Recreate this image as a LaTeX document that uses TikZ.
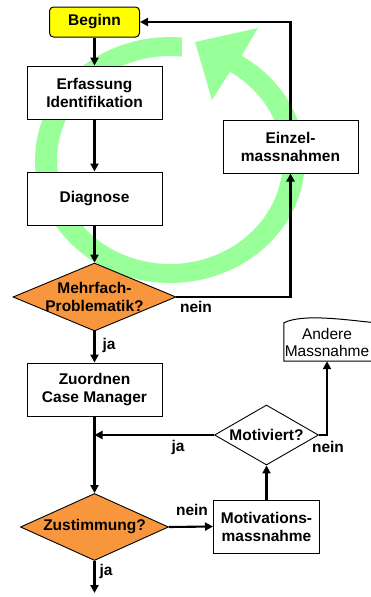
\documentclass[tikz,border=0pt]{standalone}
\usepackage{fontspec}
\setmainfont{Liberation Sans}
\usetikzlibrary{shapes.geometric,arrows.meta}
\definecolor{ringgreen}{RGB}{153,255,153}
\definecolor{decorange}{RGB}{247,150,60}
\definecolor{startyellow}{RGB}{255,255,0}
\begin{document}
\begin{tikzpicture}[x=1pt,y=-1pt,font=\fontsize{15.5}{18}\selectfont\bfseries]
    \tikzset{
        box/.style={draw,line width=1pt,fill=white,minimum width=135pt,minimum height=53pt,inner sep=0pt,align=center},
        start/.style={box,fill=startyellow,rounded corners=4pt,minimum width=90pt,minimum height=30pt},
        decision/.style={diamond,draw,line width=0.9pt,fill=decorange,inner sep=0pt},
        flow/.style={line width=2.1pt,-{Triangle[length=8pt,width=8pt]}},
        answer/.style={inner sep=0pt}}
    \useasboundingbox (0,0) rectangle (370,597);
    % green cycle arrow in the background
    \fill[ringgreen] plot[domain=-85:-418,samples=90] ({170+135*cos(\x)},{160+123*sin(\x)})
        -- (258,28) -- (195,42) -- (212,100)
        -- plot[domain=-418:-84,samples=90] ({170+113*cos(\x)},{160+104*sin(\x)}) -- cycle;
    % steps
    \node[start] (beginn) at (94.5,22) {Beginn};
    \node[box] (erfassung) at (94.5,92.5) {Erfassung\\Identifikation};
    \node[box] (diagnose) at (94.5,198.5) {Diagnose};
    \node[decision,minimum width=163pt,minimum height=68pt,
        label={[align=center]center:{Mehrfach-\\Problematik?}}] (mehrfach) at (94.5,297) {};
    \node[box] (einzel) at (290.5,146.5) {Einzel-\\massnahmen};
    \node[box] (zuordnen) at (94.5,389.5) {Zuordnen\\Case Manager};
    \node[decision,fill=white,minimum width=104pt,minimum height=60pt,
        label=center:Motiviert?] (motiviert) at (266.5,435) {};
    \node[align=center,font=\fontsize{15.5}{17}\selectfont,minimum width=86pt,
        minimum height=38pt,inner sep=0pt] (andere) at (327,342) {Andere\\Massnahme};
    \draw[line width=1pt] (andere.south west) -- (andere.north west)
        .. controls +(20,-10) and +(-24,-2) .. ([xshift=6pt]andere.north east)
        -- ([xshift=6pt]andere.south east) -- cycle;
    \node[decision,minimum width=148pt,minimum height=67pt,
        label=center:Zustimmung?] (zustimmung) at (94.5,527) {};
    \node[box,minimum width=106pt] (motivation) at (266.5,526.5) {Motivations-\\massnahme};
    \coordinate (ende) at (94.5,593);
    % connectors
    \draw[flow] (beginn) -- (erfassung);
    \draw[flow] (erfassung) -- (diagnose);
    \draw[flow] (diagnose) -- (mehrfach);
    \draw[flow] (mehrfach.east) -| (einzel.south);
    \draw[flow] (einzel.north) |- (beginn.east);
    \draw[flow] (mehrfach) -- (zuordnen);
    \draw[flow] (zuordnen) -- (zustimmung);
    \draw[flow] (motiviert.west) -- (motiviert.west -| zuordnen.south);
    \draw[flow] (motiviert.east) -| (andere.south);
    \draw[flow] (zustimmung.east) -- (motivation.west);
    \draw[flow] (motivation.north) -- (motiviert.south);
    \draw[flow] (zustimmung.south) -- (ende);
    % answers
    \node[answer] (neinmehr) at (196,307) {nein};
    \node[answer] (jamehr) at (109,345) {ja};
    \node[answer] (jamotiv) at (178,447) {ja};
    \node[answer] (neinmotiv) at (328,447) {nein};
    \node[answer] (neinzust) at (192,510) {nein};
    \node[answer] (jazust) at (106,571) {ja};
\end{tikzpicture}
\end{document}
